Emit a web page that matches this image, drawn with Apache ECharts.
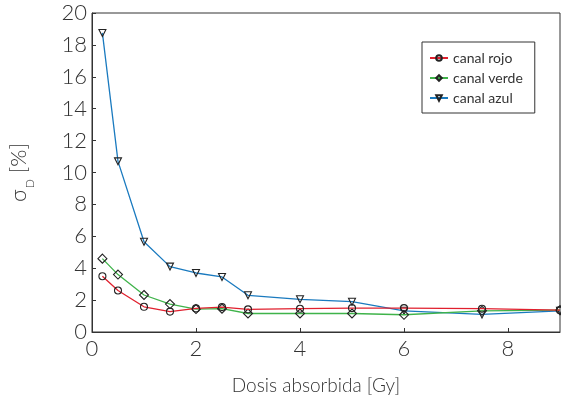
<!DOCTYPE html>
<html><head><meta charset="utf-8">
<script src="https://cdn.jsdelivr.net/npm/echarts@6/dist/echarts.min.js"></script>
<style>html,body{margin:0;padding:0;background:#fff}#c{width:561px;height:402px}</style>
</head><body><div id="c"></div>
<script>
const dosis = [0.2, 0.5, 1, 1.5, 2, 2.5, 3, 4, 5, 6, 7.5, 9];
const rojo  = [3.5, 2.6, 1.58, 1.28, 1.48, 1.56, 1.42, 1.46, 1.5, 1.5, 1.46, 1.37];
const verde = [4.6, 3.6, 2.32, 1.75, 1.44, 1.46, 1.16, 1.16, 1.16, 1.08, 1.33, 1.37];
const azul  = [18.75, 10.7, 5.66, 4.1, 3.7, 3.45, 2.3, 2.05, 1.9, 1.33, 1.1, 1.33];
const names = ['canal rojo', 'canal verde', 'canal azul'];
const colors = ['#e0202e', '#3fb34a', '#1a7abf'];
const symbols = ['circle', 'diamond', 'triangle'];

const FONT = 'Lato';
const FW = 300;
function pts(ys){ return dosis.map((x,i)=>[x, ys[i]]); }
const vals = [rojo, verde, azul];
const chart = echarts.init(document.getElementById('c'), null, {renderer:'canvas'});
chart.setOption({
  animation:false,
  backgroundColor:'#fff',
  grid:{left:87, right:1, top:13, bottom:70, show:true, borderColor:'#333', borderWidth:1},
  legend:{
    orient:'vertical', left:422, top:42,
    padding:[9,12,8,7], itemGap:6, itemWidth:18, itemHeight:7,
    backgroundColor:'#fff', borderColor:'#333', borderWidth:1, borderRadius:0,
    textStyle:{fontFamily:FONT, fontSize:14, color:'#333'},
    data:names
  },
  xAxis:{
    type:'value', min:0, max:9, interval:2,
    name:'Dosis absorbida [Gy]', nameLocation:'middle', nameGap:44,
    nameTextStyle:{fontFamily:FONT, fontWeight:FW, fontSize:19, color:'#333', padding:[0,20,0,0]},
    axisLine:{lineStyle:{color:'#333'}},
    axisTick:{inside:true, length:4, lineStyle:{color:'#333'}},
    axisLabel:{fontFamily:FONT, fontWeight:FW, fontSize:22, color:'#333', margin:6, showMaxLabel:false},
    splitLine:{show:false}
  },
  yAxis:{
    type:'value', min:0, max:20, interval:2,
    name:'{s|σ}{sub|D}{s| [%]}', nameLocation:'middle', nameGap:62, nameRotate:90,
    nameTextStyle:{rich:{
      s:{fontFamily:FONT, fontWeight:FW, fontSize:22, color:'#333', lineHeight:26, verticalAlign:'bottom'},
      sub:{fontFamily:FONT, fontWeight:FW, fontSize:12, color:'#333', lineHeight:26, verticalAlign:'bottom', padding:[0,0,-6,1]}
    }},
    axisLine:{lineStyle:{color:'#333'}},
    axisTick:{inside:true, length:4, lineStyle:{color:'#333'}},
    axisLabel:{fontFamily:FONT, fontWeight:FW, fontSize:22, color:'#333', margin:5},
    splitLine:{show:false}
  },
  series: names.map((n,i)=>({
    name:n, type:'line', data:pts(vals[i]),
    symbol:symbols[i], symbolSize: i===1?9:7, symbolRotate: i===2?180:0,
    showAllSymbol:true,
    lineStyle:{color:colors[i], width:1.3},
    itemStyle:{color:'rgba(255,255,255,0)', borderColor:'#222', borderWidth:1.1},
    z: 3-i
  }))
});
</script></body></html>
